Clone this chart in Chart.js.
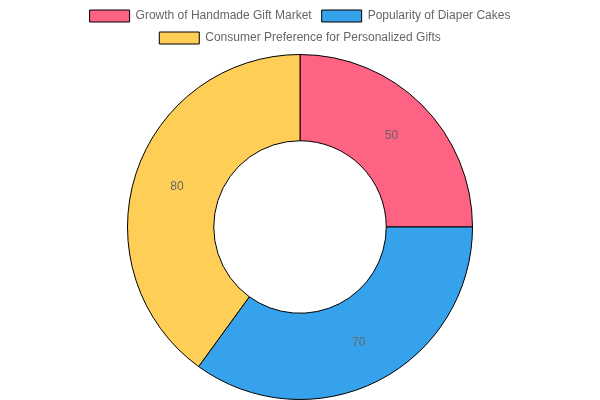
<!DOCTYPE html>
<html>
<head>
<meta charset="utf-8">
<script src="https://cdn.jsdelivr.net/npm/chart.js@4"></script>
<style>
  html, body { margin: 0; padding: 0; background: #fff; }
  #wrap { width: 600px; height: 400px; }
</style>
</head>
<body>
<div id="wrap"><canvas id="chart"></canvas></div>
<script>
const categories = [
    'Growth of Handmade Gift Market',
    'Popularity of Diaper Cakes',
    'Consumer Preference for Personalized Gifts'
];
const values = [50, 70, 80];
const colors = ['rgb(255, 99, 132)', 'rgb(54, 162, 235)', 'rgb(255, 206, 86)'];

// draw the value in the middle of each slice
const sliceLabels = {
    id: 'sliceLabels',
    afterDatasetsDraw(chart) {
        const ctx = chart.ctx;
        const meta = chart.getDatasetMeta(0);
        ctx.save();
        ctx.font = '12px "Liberation Sans", Arial, sans-serif';
        ctx.fillStyle = '#666';
        ctx.textAlign = 'center';
        ctx.textBaseline = 'middle';
        meta.data.forEach((arc, i) => {
            const pos = arc.tooltipPosition();
            ctx.fillText(values[i], pos.x, pos.y);
        });
        ctx.restore();
    }
};

Chart.defaults.font.family = '"Liberation Sans", Arial, sans-serif';
Chart.defaults.font.size = 12;
Chart.defaults.color = '#666';

new Chart(document.getElementById('chart'), {
    type: 'doughnut',
    data: {
        labels: categories,
        datasets: [{
            data: values,
            backgroundColor: colors,
            borderColor: '#000',
            borderWidth: 1
        }]
    },
    options: {
        responsive: true,
        maintainAspectRatio: false,
        animation: false,
        cutout: '50%',
        plugins: {
            legend: {
                position: 'top',
                labels: { boxWidth: 40, boxHeight: 12 }
            },
            tooltip: { enabled: false }
        }
    },
    plugins: [sliceLabels]
});
</script>
</body>
</html>
